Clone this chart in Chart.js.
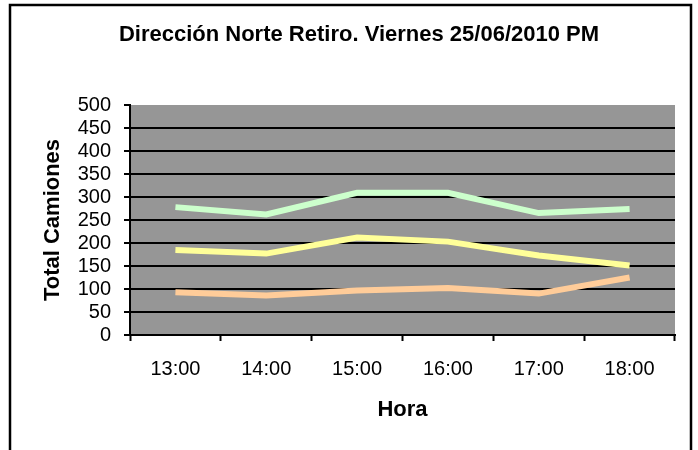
<!DOCTYPE html>
<html>
<head>
<meta charset="utf-8">
<script src="https://cdn.jsdelivr.net/npm/chart.js@4/dist/chart.umd.min.js"></script>
<style>
  html, body { margin: 0; padding: 0; background: #fff; }
  #wrap { width: 698px; height: 450px; }
</style>
</head>
<body>
<div id="wrap"><canvas id="chart" width="698" height="450"></canvas></div>
<script>
// Camiones por hora, tres series
const horas = ['13:00', '14:00', '15:00', '16:00', '17:00', '18:00'];
const serieVerde = [278, 262, 309, 309, 265, 274];
const serieAmarilla = [185, 177, 212, 203, 173, 151];
const serieNaranja = [93, 86, 97, 102, 90, 125];
const yTicks = [0, 50, 100, 150, 200, 250, 300, 350, 400, 450, 500];

const FONT = "'Liberation Sans', Arial, sans-serif";

// Gray plot background + outer frame
const fondo = {
    id: 'fondo',
    afterLayout(chart) {
        // center the title a bit more to the right
        const t = chart.titleBlock;
        if (t) { t.left = 43; t.right = 675; }
    },
    beforeDraw(chart) {
        const { ctx, chartArea: a } = chart;
        ctx.save();
        ctx.fillStyle = '#fff';
        ctx.fillRect(0, 0, chart.width, chart.height);
        ctx.fillStyle = '#969696';
        ctx.fillRect(a.left, a.top, a.right - a.left, a.bottom - a.top);
        ctx.strokeStyle = '#000';
        ctx.lineWidth = 2.5;
        ctx.strokeRect(10, 5, 681, 460);
        ctx.restore();
    }
};

function serie(data, color) {
    return {
        data: data,
        borderColor: color,
        backgroundColor: color,
        borderWidth: 6,
        pointRadius: 0,
        tension: 0,
        fill: false
    };
}

new Chart(document.getElementById('chart'), {
    type: 'line',
    data: {
        labels: horas,
        datasets: [
            serie(serieVerde, '#ccffcc'),
            serie(serieAmarilla, '#ffff99'),
            serie(serieNaranja, '#ffcc99')
        ]
    },
    plugins: [fondo],
    options: {
        responsive: false,
        animation: false,
        layout: { padding: { left: 0, right: 23, top: 0, bottom: 0 } },
        plugins: {
            legend: { display: false },
            tooltip: { enabled: false },
            title: {
                display: true,
                text: 'Dirección Norte Retiro. Viernes 25/06/2010 PM',
                color: '#000',
                font: { family: FONT, size: 22, weight: 'bold' },
                padding: { top: 22, bottom: 56.6 }
            }
        },
        scales: {
            x: {
                offset: true,
                afterFit: s => { s.height = 115; },
                grid: {
                    offset: true,
                    drawOnChartArea: false,
                    drawTicks: true,
                    tickLength: 6,
                    tickWidth: 2,
                    tickColor: '#000'
                },
                border: { color: '#000', width: 2 },
                ticks: {
                    color: '#000',
                    font: { family: FONT, size: 20 },
                    padding: 16,
                    maxRotation: 0
                },
                title: {
                    display: true,
                    text: 'Hora',
                    color: '#000',
                    font: { family: FONT, size: 22, weight: 'bold' },
                    padding: { top: 0, bottom: 27 }
                }
            },
            y: {
                min: 0,
                max: 500,
                afterFit: s => { s.width = 130; },
                afterBuildTicks: s => { s.ticks = yTicks.map(v => ({ value: v })); },
                grid: {
                    color: ctx => ctx.tick && ctx.tick.value === 500 ? 'rgba(0,0,0,0)' : '#000',
                    lineWidth: 2,
                    drawTicks: true,
                    tickLength: 6,
                    tickColor: '#000',
                    tickWidth: 2
                },
                border: { color: '#000', width: 2 },
                ticks: {
                    color: '#000',
                    font: { family: FONT, size: 20 },
                    padding: 13,
                    autoSkip: false
                },
                title: {
                    display: true,
                    text: 'Total Camiones',
                    color: '#000',
                    font: { family: FONT, size: 22, weight: 'bold' },
                    padding: { top: 40, bottom: 0 }
                }
            }
        }
    }
});
</script>
</body>
</html>
